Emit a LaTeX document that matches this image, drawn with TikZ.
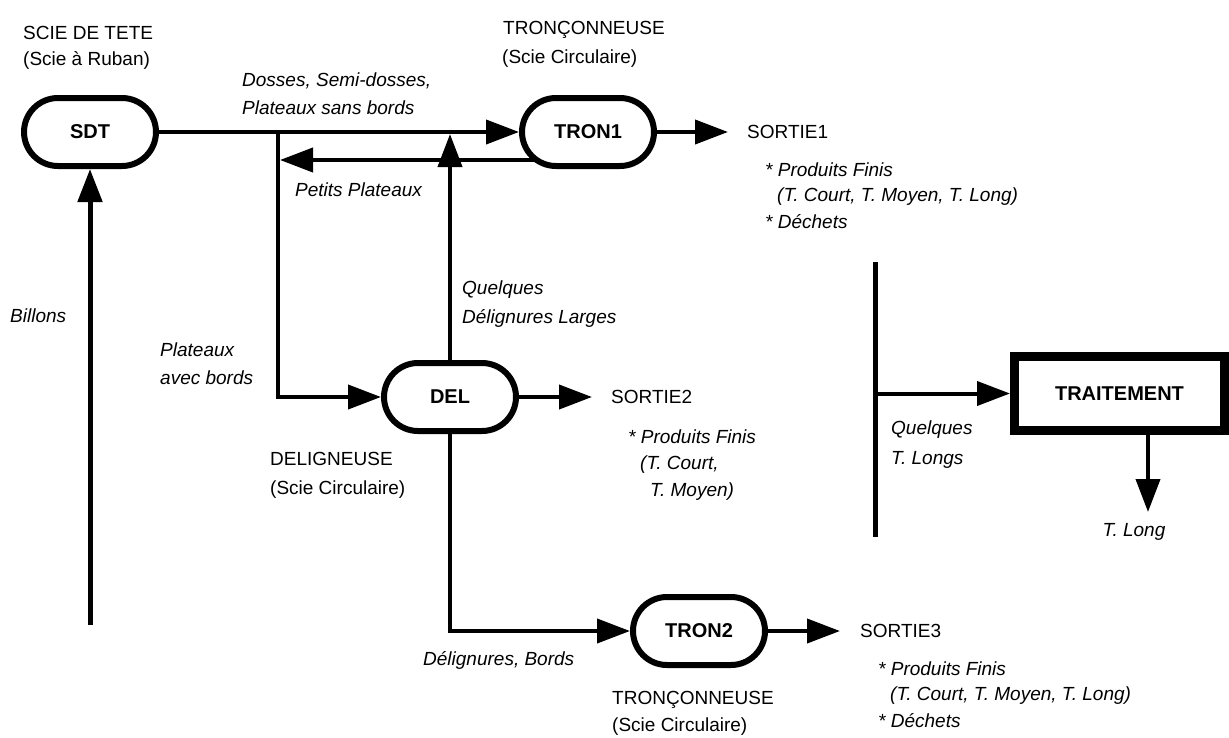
\documentclass[tikz,border=0pt]{standalone}
\usepackage{fontspec}
\setmainfont{Liberation Sans}
\usetikzlibrary{arrows.meta,backgrounds}
\begin{document}
\begin{tikzpicture}[x=1pt,y=-1pt,
  txt/.style={font=\fontsize{19}{22}\selectfont, inner sep=0pt, anchor=west},
  itx/.style={txt, font=\fontsize{19}{22}\selectfont\itshape},
  pill/.style={draw, line width=6pt, fill=white, rounded corners=34pt,
    minimum width=132pt, minimum height=68pt, inner sep=0pt,
    font=\fontsize{20}{24}\selectfont\bfseries},
  boxnode/.style={draw, line width=9pt, fill=white, minimum width=210pt,
    minimum height=74pt, inner sep=0pt, font=\fontsize{20}{24}\selectfont\bfseries},
  arr/.style={line width=4pt, -{Triangle[length=33pt,width=24pt]}},
  ln/.style={line width=5pt}]
% machines
\node[pill] (SDT) at (90,132) {SDT};
\node[pill] (TRON1) at (588,132) {TRON1};
\node[pill] (DEL) at (450,397) {DEL};
\node[pill] (TRON2) at (699,631) {TRON2};
\node[boxnode] (TRAIT) at (1119.5,393.5) {TRAITEMENT};
% outputs
\node[txt] (S1) at (747,132) {SORTIE1};
\node[txt] (S2) at (611,397) {SORTIE2};
\node[txt] (S3) at (860,631) {SORTIE3};
% machine captions
\node[txt] (sdtA) at (23,33) {SCIE DE TETE};
\node[txt] (sdtB) at (23,60) {(Scie à Ruban)};
\node[txt] (t1A) at (503,30) {TRONÇONNEUSE};
\node[txt] (t1B) at (502,59) {(Scie Circulaire)};
\node[txt] (delA) at (270,459) {DELIGNEUSE};
\node[txt] (delB) at (270,490) {(Scie Circulaire)};
\node[txt] (t2A) at (612,700) {TRONÇONNEUSE};
\node[txt] (t2B) at (612,727) {(Scie Circulaire)};
% flow labels
\node[itx] (lDos) at (242,81) {Dosses, Semi-dosses,};
\node[itx] (lPsb) at (242,108) {Plateaux sans bords};
\node[itx] (lPP) at (295,190) {Petits Plateaux};
\node[itx] (lQ1) at (462,290) {Quelques};
\node[itx] (lQ2) at (462,318) {Délignures Larges};
\node[itx] (lPl1) at (160,350) {Plateaux};
\node[itx] (lPl2) at (160,378) {avec bords};
\node[itx] (lBil) at (10,316) {Billons};
\node[itx] (lDB) at (423,660) {Délignures, Bords};
\node[itx] (lQT1) at (891,430) {Quelques};
\node[itx] (lQT2) at (891,460) {T. Longs};
\node[itx, anchor=center] (TL) at (1134,532) {T. Long};
% output lists
\node[itx] (s1a) at (765,170) {* Produits Finis};
\node[itx] (s1b) at (777,197) {(T. Court, T. Moyen, T. Long)};
\node[itx] (s1c) at (765,222) {* Déchets};
\node[itx] (s2a) at (628,437) {* Produits Finis};
\node[itx] (s2b) at (640,465) {(T. Court,};
\node[itx] (s2c) at (650,492) {T. Moyen)};
\node[itx] (s3a) at (878,669) {* Produits Finis};
\node[itx] (s3b) at (890,696) {(T. Court, T. Moyen, T. Long)};
\node[itx] (s3c) at (878,721) {* Déchets};
% junctions
\coordinate (jL) at (278,132);
\coordinate (jR) at (280,160);
\coordinate (jT) at (450,134);
\coordinate (bB) at (90,625);
\coordinate (sepT) at (875,262);
\coordinate (sepB) at (875,537);
\coordinate (tlA) at (1148,512);
\begin{scope}[on background layer]
\fill[white] (0,0) rectangle (1229,737);
\draw[arr] (SDT.east) -- (TRON1.west);
\draw[arr] (TRON1.center |- jR) -- (jR);
\draw[arr] (jL) |- (DEL.west);
\draw[arr] (DEL.north) -- (jT);
\draw[arr] (DEL.south) |- (TRON2.west);
\draw[arr, line width=5pt] (bB) -- (SDT.south);
\draw[arr, shorten >=19pt] (TRON1.east) -- (S1.west);
\draw[arr, shorten >=19pt] (DEL.east) -- (S2.west);
\draw[arr, shorten >=20pt] (TRON2.east) -- (S3.west);
\draw[ln] (sepT) -- (sepB);
\draw[arr] (sepT |- TRAIT.west) -- (TRAIT.west);
\draw[arr] (TRAIT.south -| tlA) -- (tlA);
\end{scope}
\useasboundingbox (0,0) rectangle (1229,737);
\end{tikzpicture}
\end{document}
